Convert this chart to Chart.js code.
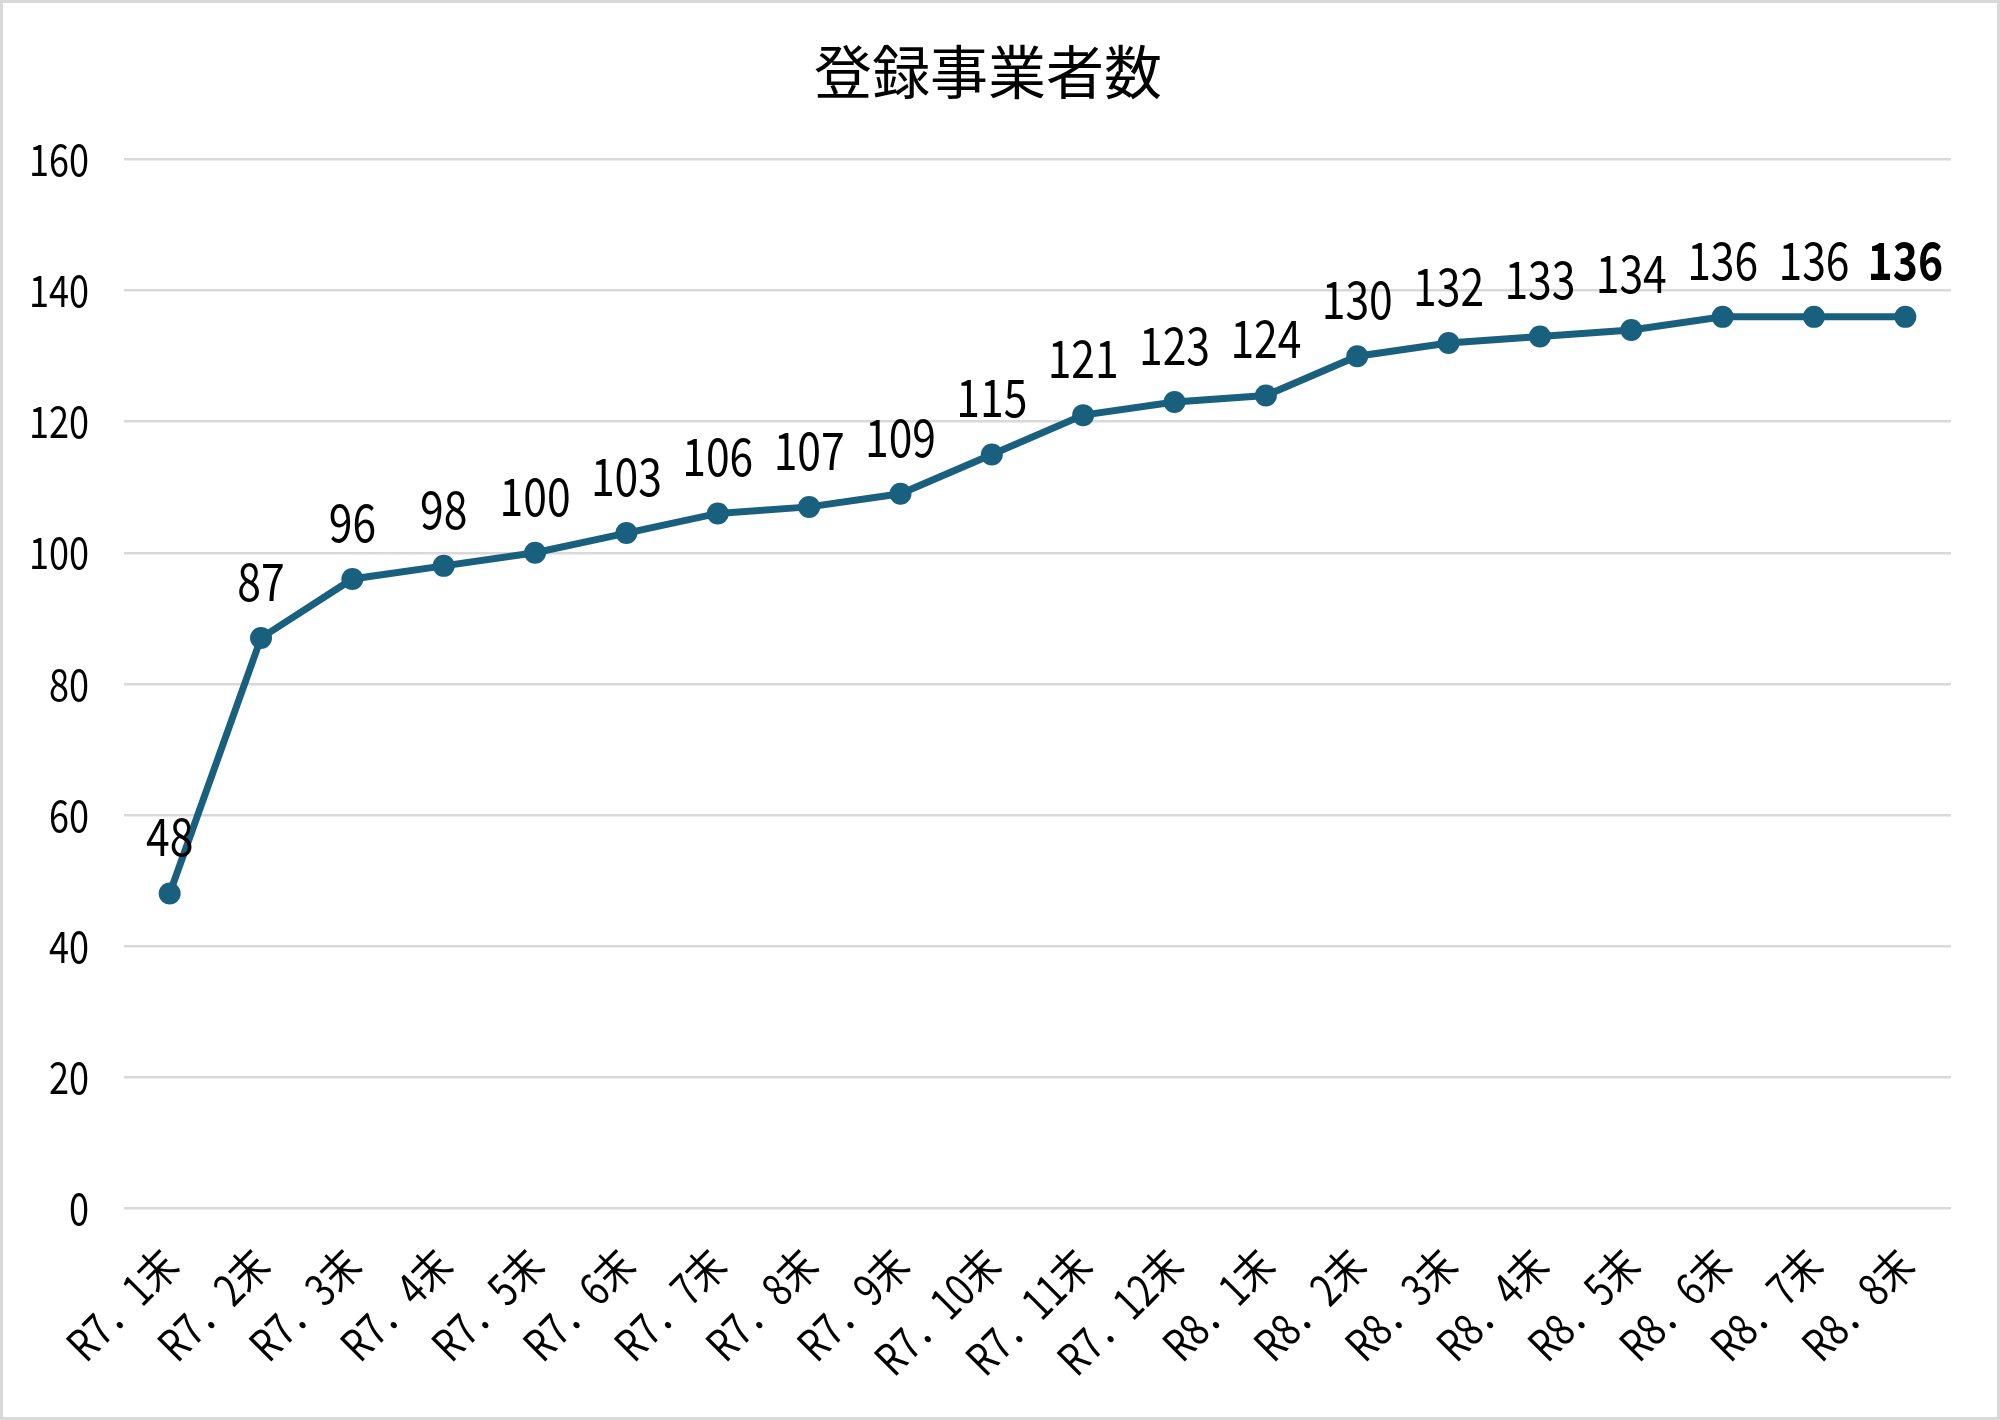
<!DOCTYPE html>
<html>
<head>
<meta charset="utf-8">
<script src="https://cdn.jsdelivr.net/npm/chart.js@4.4.1/dist/chart.umd.min.js"></script>
<style>
  html, body { margin: 0; padding: 0; background: #ffffff; }
  #wrap {
    width: 2000px; height: 1420px; box-sizing: border-box;
    border: 3px solid #d9d9d9; background: #ffffff; position: relative;
  }
  #chart { display: block; }
</style>
</head>
<body>
<div id="wrap"><canvas id="chart" width="1994" height="1414"></canvas></div>
<script>
// ---- data ----
const CHART_TITLE = '登録事業者数';
const months = [
    'R7．1末', 'R7．2末', 'R7．3末', 'R7．4末', 'R7．5末', 'R7．6末',
    'R7．7末', 'R7．8末', 'R7．9末', 'R7．10末', 'R7．11末', 'R7．12末',
    'R8．1末', 'R8．2末', 'R8．3末', 'R8．4末', 'R8．5末', 'R8．6末',
    'R8．7末', 'R8．8末'
];
const registered = [48, 87, 96, 98, 100, 103, 106, 107, 109, 115, 121, 123, 124, 130, 132, 133, 134, 136, 136, 136];
const yTicks = [0, 20, 40, 60, 80, 100, 120, 140, 160];

const LINE_COLOR = '#19607f';
const JP = "'Noto Sans CJK JP', sans-serif";
// the original uses a narrow face for axis text and values;
// text set in this "family" gets squeezed horizontally when drawn
const NARROW_TAG = 'Narrow Digits';
const NARROW = "'" + NARROW_TAG + "', 'Noto Sans CJK JP', sans-serif";
const SQUEEZE = 0.82;

const canvas = document.getElementById('chart');
const ctx2d = canvas.getContext('2d');
const rawFill = ctx2d.fillText.bind(ctx2d);
const rawMeasure = ctx2d.measureText.bind(ctx2d);
ctx2d.fillText = function (text, x, y, maxWidth) {
    if (!this.font.includes(NARROW_TAG)) return rawFill(text, x, y, maxWidth);
    this.save();
    this.translate(x, y);
    this.scale(SQUEEZE, 1);
    rawFill(text, 0, 0);
    this.restore();
};
ctx2d.measureText = function (text) {
    const m = rawMeasure(text);
    if (!this.font.includes(NARROW_TAG)) return m;
    return { width: m.width * SQUEEZE };
};

// value labels above each point (last one bold)
const valueLabels = {
    id: 'valueLabels',
    afterDatasetsDraw(chart) {
        const ctx = chart.ctx;
        const meta = chart.getDatasetMeta(0);
        const vals = chart.data.datasets[0].data;
        ctx.save();
        ctx.fillStyle = '#000000';
        ctx.textAlign = 'center';
        ctx.textBaseline = 'middle';
        meta.data.forEach((pt, i) => {
            const last = i === vals.length - 1;
            ctx.font = (last ? 'bold ' : '') + '52px ' + NARROW;
            ctx.fillText(String(vals[i]), pt.x, pt.y - 57);
        });
        ctx.restore();
    }
};

new Chart(canvas, {
    type: 'line',
    data: {
        labels: months,
        datasets: [{
            data: registered,
            borderColor: LINE_COLOR,
            backgroundColor: LINE_COLOR,
            borderWidth: 7,
            pointRadius: 11,
            pointBorderWidth: 0,
            pointBackgroundColor: LINE_COLOR,
            tension: 0,
            fill: false
        }]
    },
    options: {
        responsive: false,
        animation: false,
        devicePixelRatio: 1,
        layout: { padding: { left: 22, right: 46, top: 0, bottom: 0 } },
        plugins: {
            legend: { display: false },
            tooltip: { enabled: false },
            title: {
                display: true,
                text: CHART_TITLE,
                color: '#000000',
                font: { family: JP, size: 58, weight: 'normal' },
                padding: { top: 34, bottom: 53 }
            }
        },
        scales: {
            x: {
                offset: true,
                border: { display: false },
                grid: { display: false, drawTicks: false },
                afterFit: s => { s.height = 209; },
                ticks: {
                    color: '#000000',
                    font: { family: NARROW, size: 44 },
                    minRotation: 45,
                    maxRotation: 45,
                    autoSkip: false,
                    padding: 30
                }
            },
            y: {
                min: 0,
                max: 160,
                border: { display: false },
                grid: { color: '#d9d9d9', lineWidth: 2.5, drawTicks: false },
                afterBuildTicks: scale => { scale.ticks = yTicks.map(v => ({ value: v })); },
                afterFit: s => { s.width = 99; },
                ticks: {
                    color: '#000000',
                    font: { family: NARROW, size: 44 },
                    padding: 35
                }
            }
        }
    },
    plugins: [valueLabels]
});
</script>
</body>
</html>
